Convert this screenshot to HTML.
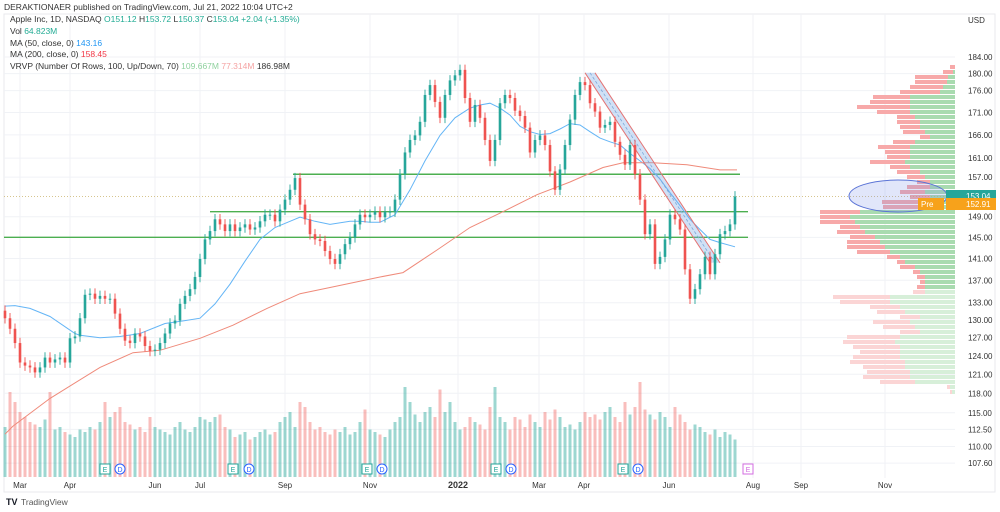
<!DOCTYPE html>
<html><head><meta charset="utf-8"><style>
html,body{margin:0;padding:0;background:#fff;width:1000px;height:512px;overflow:hidden;font-family:"Liberation Sans",sans-serif}
svg{position:absolute;left:0;top:0}
</style></head><body>
<svg id="chart" width="1000" height="512" xmlns="http://www.w3.org/2000/svg">
<text x="4" y="10" font-size="8.5" fill="#333">DERAKTIONAER published on TradingView.com, Jul 21, 2022 10:04 UTC+2</text>
<rect x="4" y="14" width="991" height="478" fill="none" stroke="#e8eaee"/>
<g id="grid"></g>
<g id="profile"></g>
<g id="vol"></g>
<g id="levels"></g>
<g id="mas"></g>
<g id="channel"></g>
<g id="candles"></g>
<ellipse cx="898" cy="196" rx="49" ry="16" fill="rgba(120,140,230,0.22)" stroke="#5b74d6" stroke-width="1"/>
<g font-size="8.5">
<text x="10" y="22" fill="#333">Apple Inc, 1D, NASDAQ <tspan fill="#22ab94">O</tspan><tspan fill="#22ab94">151.12</tspan> <tspan fill="#333">H</tspan><tspan fill="#22ab94">153.72</tspan> <tspan fill="#333">L</tspan><tspan fill="#22ab94">150.37</tspan> <tspan fill="#333">C</tspan><tspan fill="#22ab94">153.04 +2.04 (+1.35%)</tspan></text>
<text x="10" y="34" fill="#333">Vol <tspan fill="#22ab94">64.823M</tspan></text>
<text x="10" y="46" fill="#333">MA (50, close, 0) <tspan fill="#2196f3">143.16</tspan></text>
<text x="10" y="57" fill="#333">MA (200, close, 0) <tspan fill="#f23645">158.45</tspan></text>
<text x="10" y="69" fill="#333">VRVP (Number Of Rows, 100, Up/Down, 70) <tspan fill="#8fd19e">109.667M</tspan> <tspan fill="#f5a3a3">77.314M</tspan> 186.98M</text>
</g>
<text x="968" y="23" font-size="8" fill="#333">USD</text>
<g id="yaxis" font-size="8" fill="#333"></g>
<g id="xaxis" font-size="8" fill="#333"></g>
<g id="events"></g>
<rect x="946" y="190" width="50" height="12" fill="#26a69a"/>
<text x="966" y="199" font-size="8" fill="#fff">153.04</text>
<rect x="918" y="198" width="26" height="12" fill="#f7a21b"/>
<text x="921" y="207" font-size="8" fill="#fff">Pre</text>
<rect x="946" y="198" width="50" height="12" fill="#f7a21b"/>
<text x="966" y="207" font-size="8" fill="#fff">152.91</text>
<text x="6" y="505" font-size="9" font-weight="bold" fill="#131722">TV</text>
<text x="21" y="505" font-size="8.5" fill="#555">TradingView</text>
</svg>
<script>
const closes=[130.3,128.5,126.1,122.9,122.4,122.1,121.3,122.1,123.7,122.9,123.4,123.7,122.9,126.9,127.2,130.3,134.4,134.6,133.7,134.2,133.7,133.7,131.1,128.5,126.5,126.1,127.7,127.2,125.6,124.8,125.0,126.1,127.7,129.4,129.9,132.8,134.2,135.4,137.6,140.9,144.6,146.2,148.5,147.5,146.2,147.5,146.2,146.9,147.5,146.5,146.9,148.1,149.4,149.4,148.1,150.4,152.4,154.4,156.8,151.4,148.5,145.6,144.6,144.3,142.4,140.9,140.0,141.8,143.7,145.0,147.5,149.4,148.9,149.4,150.0,148.9,150.0,150.0,152.4,157.6,162.2,164.9,165.9,168.9,175.0,177.3,173.4,169.8,175.0,178.4,179.6,180.9,174.3,168.9,172.7,169.8,164.9,160.4,164.9,173.1,175.0,174.3,171.4,170.2,167.6,162.2,164.9,165.9,163.8,158.2,154.4,158.6,163.8,169.4,175.0,178.0,177.3,173.1,171.2,167.6,168.2,168.9,164.5,161.7,159.6,163.8,157.6,152.4,145.6,147.5,140.0,141.3,144.6,149.4,148.5,146.5,139.0,133.7,135.4,138.1,141.3,138.1,141.8,145.6,146.2,147.5,153.04];
const volumes=[100,170,150,130,120,110,105,100,115,170,95,100,90,85,80,95,90,100,95,110,150,120,130,140,110,105,95,100,90,120,100,95,90,85,100,110,95,90,100,120,115,110,120,125,100,95,80,85,90,75,80,90,95,85,90,110,120,130,100,150,140,110,95,100,90,85,95,90,100,85,90,110,135,95,90,85,80,95,110,120,180,150,125,110,130,140,120,175,130,150,110,95,100,120,110,105,95,140,180,120,110,95,120,115,100,125,110,100,130,115,135,120,100,105,95,110,130,120,125,115,130,140,120,110,150,125,140,190,135,125,115,130,120,100,140,125,110,95,105,100,90,85,95,80,90,85,75];
const ma50Idx=[0,2,5,9,14,15,19,23,27,32,36,39,42,45,48,51,54,57,59,62,65,69,71,73,75,78,81,84,87,90,93,95,97,99,101,103,105,107,109,111,113,115,117,119,121,123,125,127,129,131,133,135,137,139,141,143,146];
const ma50Vals=[132.4,132.5,132.0,130.6,127.7,127.4,127.0,127.2,127.7,129.4,129.9,130.3,132.8,136.3,140.5,144.6,146.9,148.1,148.9,148.1,147.5,148.1,148.1,147.9,147.9,149.4,154.4,160.4,165.9,169.8,172.0,172.7,173.1,172.0,170.4,167.9,166.7,166.1,166.3,167.3,168.5,168.2,166.7,165.3,164.5,163.8,162.0,160.4,158.8,156.6,153.8,151.2,148.5,146.5,144.6,144.0,143.2];
const ma200Idx=[0,1.6,9,19,25.6,31,39,45.6,52.4,59,65.6,75,79.6,86.4,93,99.6,106.4,113,119.6,123.6,129.6,136.4,143,146.4];
const ma200Vals=[111.8,113.0,117.2,122.1,124.5,124.9,126.9,129.1,132.0,134.6,135.8,137.6,138.4,142.6,146.9,150.0,153.4,156.0,159.0,160.0,160.0,159.6,158.5,158.5];
const profUp=[0,2,7,8,12,15,45,45,45,45,40,35,35,30,25,40,45,45,45,50,45,35,30,25,25,30,25,30,35,95,105,100,95,90,80,75,70,65,55,50,40,35,30,30,30,30,65,65,55,50,35,45,40,35,55,60,55,55,55,50,50,45,45,40,5,3];
const profTotal=[5,12,40,40,45,55,82,85,98,78,58,58,55,52,35,62,77,70,68,85,65,58,48,38,48,55,45,73,72,135,135,135,115,118,105,108,108,98,68,58,55,42,38,35,38,42,122,115,85,78,55,82,72,55,108,112,102,95,102,105,92,88,92,75,8,5];
const priceTicks=[184,180,176,171,166,161,157,149,145,141,137,133,130,127,124,121,118,115,112.5,110,107.6];
const levelPrices=[157.6,150.0,145.0];
const monthLabels=["Mar","Apr","Jun","Jul","Sep","Nov","2022","Mar","Apr","Jun","Aug","Sep","Nov"];
const monthIdx=[3,13,30,39,56,73,90.6,106.8,115.8,132.8,149.6,159.2,176];
const eventIdx=[20,23,45.6,48.8,72.4,75.4,98.2,101.2,123.6,126.6,148.6];
const eventType=["E","D","E","D","E","D","E","D","E","D","E2"];
const channelIdx=[117,142];
const channelPrice=[180.2,140.2];

const NS="http://www.w3.org/2000/svg";
const Y0=57,PX=757,P0=184;
function yS(p){return Y0+(Math.log(P0)-Math.log(p))*PX;}
function xS(i){return 5+i*5;}
function mk(tag,attrs,parent){const e=document.createElementNS(NS,tag);for(const k in attrs)e.setAttribute(k,attrs[k]);parent.appendChild(e);return e;}
const $=id=>document.getElementById(id);

priceTicks.forEach(p=>{const l=mk('line',{x1:4,x2:955,y1:yS(p),y2:yS(p),stroke:'#f0f2f6'},$('grid'));

});
monthIdx.forEach(i=>{const l=mk('line',{x1:xS(i),x2:xS(i),y1:14,y2:478,stroke:'#f0f2f6'},$('grid'));

});

priceTicks.forEach(p=>{const t=mk('text',{x:968,y:yS(p)+3},$('yaxis'));t.textContent=p.toFixed(2);

});
monthLabels.forEach((m,k)=>{const t=mk('text',{x:xS(monthIdx[k]),y:488,'text-anchor':'middle'},$('xaxis'));t.textContent=m;
if(m==='2022'){t.setAttribute('font-weight','bold');t.setAttribute('font-size','9');}

});

const rowTopY=65,rowH=5;
profTotal.forEach((tot,k)=>{const y=rowTopY+k*rowH;const light=y>=288;const up=profUp[k];const dn=tot-up;
const r1=mk('rect',{x:955-tot,y:y,width:dn,height:rowH-1,fill:light?'#fbd5d5':'#f7a9a9'},$('profile'));


const r2=mk('rect',{x:955-up,y:y,width:up,height:rowH-1,fill:light?'#d7efd9':'#a9dbb0'},$('profile'));

});

volumes.forEach((v,i)=>{const up=i===0||closes[i]>=closes[i-1];const h=v*0.5;
const r=mk('rect',{x:xS(i)-1.5,y:477-h,width:3,height:h,fill:up?'rgba(38,166,154,0.45)':'rgba(239,83,80,0.38)'},$('vol'));

});

const lvlStart=[293,210,4],lvlEnd=[740,748,748];
levelPrices.forEach((p,k)=>{const l=mk('line',{x1:lvlStart[k],x2:lvlEnd[k],y1:yS(p),y2:yS(p),stroke:'#4caf50','stroke-width':1.4},$('levels'));

});
const dl=mk('line',{x1:4,x2:946,y1:yS(153.04),y2:yS(153.04),stroke:'#c9b26a','stroke-dasharray':'1 2','stroke-width':0.8},$('levels'));



function path(idx,vals){return idx.map((i,k)=>(k?'L':'M')+xS(i).toFixed(1)+' '+yS(vals[k]).toFixed(1)).join(' ');}
const m50=mk('path',{d:path(ma50Idx,ma50Vals),fill:'none',stroke:'#64b5f6','stroke-width':1},$('mas'));


const m200=mk('path',{d:path(ma200Idx,ma200Vals),fill:'none',stroke:'#ef8a7a','stroke-width':1},$('mas'));



const cx1=xS(channelIdx[0]),cy1=yS(channelPrice[0]),cx2=xS(channelIdx[1]),cy2=yS(channelPrice[1]),w=5;
const band=mk('polygon',{points:`${cx1-w},${cy1} ${cx1+w},${cy1} ${cx2+w},${cy2} ${cx2-w},${cy2}`,fill:'rgba(120,170,230,0.35)'},$('channel'));


[-w,w].forEach(o=>{const l=mk('line',{x1:cx1+o,y1:cy1,x2:cx2+o,y2:cy2,stroke:'#e57373','stroke-width':1},$('channel'));

});
const mid=mk('line',{x1:cx1,y1:cy1,x2:cx2,y2:cy2,stroke:'#7ea7d8','stroke-dasharray':'3 2','stroke-width':0.8},$('channel'));



closes.forEach((c,i)=>{const o=i?closes[i-1]:c*1.01;const up=c>=o;const col=up?'#26a69a':'#ef5350';
const hi=Math.max(o,c)*1.007,lo=Math.min(o,c)*0.993;const x=xS(i);
const wk=mk('line',{x1:x,x2:x,y1:yS(hi),y2:yS(lo),stroke:col,'stroke-width':0.9},$('candles'));


const top=yS(Math.max(o,c)),bot=yS(Math.min(o,c));
const b=mk('rect',{x:x-1.3,y:top,width:2.6,height:Math.max(1,bot-top),fill:col},$('candles'));

});

eventType.forEach((t,k)=>{const x=xS(eventIdx[k]),y=469;let e;
if(t==='D'){e=mk('circle',{cx:x,cy:y,r:5,fill:'#fff',stroke:'#2962ff','stroke-width':1},$('events'));}
else{e=mk('rect',{x:x-5,y:y-5,width:10,height:10,fill:'#fff',stroke:t==='E2'?'#d36ee0':'#26a69a','stroke-width':1},$('events'));}


const tx=mk('text',{x:x,y:y+3,'font-size':7,'text-anchor':'middle',fill:t==='D'?'#2962ff':(t==='E2'?'#d36ee0':'#26a69a')},$('events'));
tx.textContent=t==='E2'?'E':t;

});
</script>
</body></html>
